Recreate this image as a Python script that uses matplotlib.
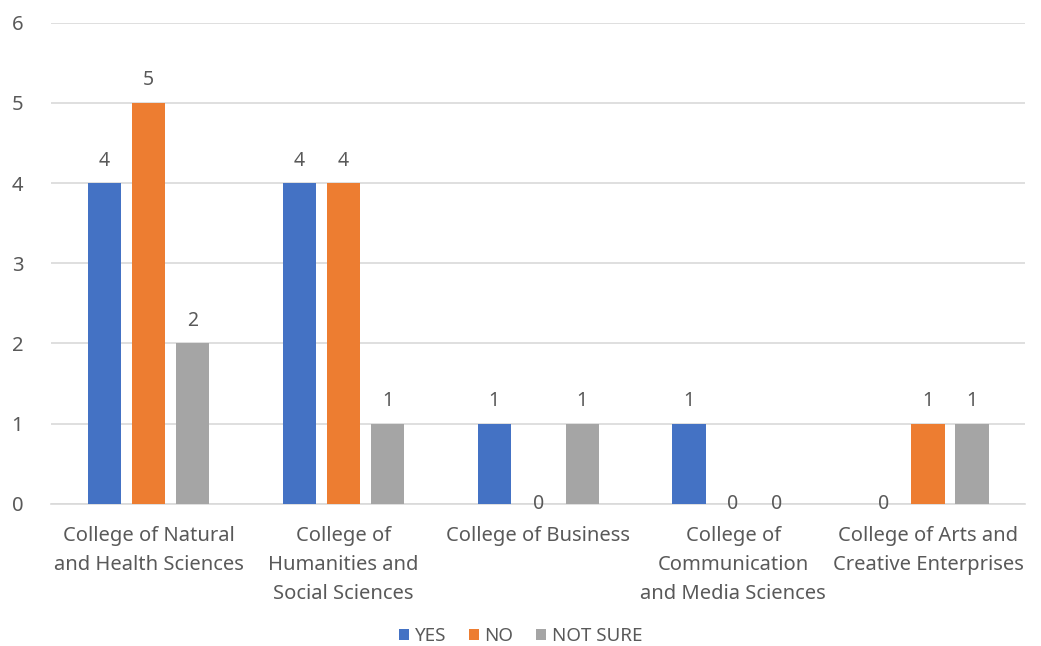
import matplotlib.pyplot as plt
import numpy as np

plt.rcParams['font.family'] = ['Noto Sans', 'DejaVu Sans']

colleges = ["College of Natural\nand Health Sciences",
            "College of\nHumanities and\nSocial Sciences",
            "College of Business",
            "College of\nCommunication\nand Media Sciences",
            "College of Arts and\nCreative Enterprises"]
yes = [4, 4, 1, 1, 0]
no = [5, 4, 0, 0, 1]
not_sure = [2, 1, 1, 0, 1]

series = [("YES", yes, "#4472C4"), ("NO", no, "#ED7D31"), ("NOT SURE", not_sure, "#A5A5A5")]
textcol = "#595959"

fig = plt.figure(figsize=(10.41, 6.46), dpi=100)
ax = fig.add_axes([0.049, 0.22, 0.936, 0.745])

x = np.arange(len(colleges))
step = 0.226
for i, (name, vals, col) in enumerate(series):
    pos = x + (i - 1) * step
    ax.bar(pos, vals, width=0.17, color=col, label=name, zorder=3)
    for p, v in zip(pos, vals):
        if v == 0:
            ax.text(p, v, str(v), ha="center", va="center", fontsize=14, color=textcol)
        else:
            ax.annotate(str(v), (p, v), xytext=(0, 9), textcoords="offset points",
                        ha="center", va="bottom", fontsize=14, color=textcol)

ax.set_xlim(-0.5, len(colleges) - 0.5)
ax.set_ylim(0, 6)
ax.set_yticks(range(7))
ax.yaxis.grid(True, color="#D9D9D9", linewidth=1.2, zorder=0)
ax.set_xticks(x)
ax.set_xticklabels(colleges, linespacing=1.6)
ax.tick_params(axis="both", length=0, labelsize=14.5, labelcolor=textcol)
ax.tick_params(axis="x", pad=16)
ax.tick_params(axis="y", pad=20)
for s in ["top", "right", "left"]:
    ax.spines[s].set_visible(False)
ax.spines["bottom"].set_color("#D9D9D9")
ax.spines["bottom"].set_linewidth(1.2)

leg = fig.legend(loc="lower center", ncol=3, frameon=False, fontsize=13.5,
                 bbox_to_anchor=(0.5, -0.025), handlelength=0.55, handleheight=0.55,
                 handletextpad=0.3, columnspacing=1.2)
for t in leg.get_texts():
    t.set_color(textcol)

fig.savefig("out.png", dpi=100)
